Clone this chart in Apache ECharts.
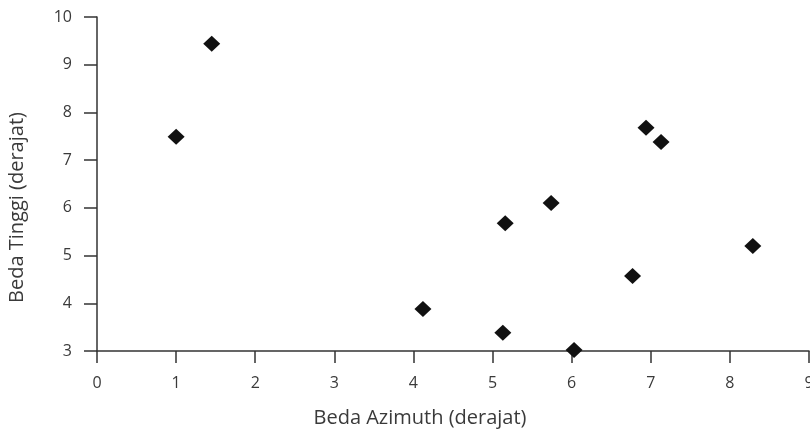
<!DOCTYPE html>
<html>
<head>
<meta charset="utf-8">
<script src="https://cdn.jsdelivr.net/npm/echarts@6/dist/echarts.min.js"></script>
<style>html,body{margin:0;padding:0;background:#fff}#c{width:810px;height:430px}</style>
</head>
<body>
<div id="c"></div>
<script>
var xName = 'Beda Azimuth (derajat)';
var yName = 'Beda Tinggi (derajat)';
var azimuth = [1.0, 1.45, 4.12, 5.13, 5.16, 5.74, 6.03, 6.77, 6.94, 7.13, 8.29];
var tinggi  = [7.49, 9.44, 3.88, 3.38, 5.68, 6.10, 3.02, 4.57, 7.68, 7.38, 5.20];

var pts = azimuth.map(function (x, i) { return [x, tinggi[i]]; });
var font = '"Open Sans", "Noto Sans", sans-serif';
var chart = echarts.init(document.getElementById('c'));
chart.setOption({
  animation: false,
  grid: { left: 97, right: 1, top: 17, bottom: 79, containLabel: false, outerBoundsMode: 'none' },
  xAxis: {
    type: 'value', min: 0, max: 9, interval: 1,
    name: xName, nameLocation: 'middle', nameGap: 57,
    nameTextStyle: { color: '#3a3a3a', fontSize: 20, fontFamily: font, padding: [0, 66, 0, 0] },
    axisLine: { show: true, lineStyle: { color: '#333', width: 1.5 } },
    axisTick: { show: true, length: 12, lineStyle: { color: '#333', width: 1.5 } },
    axisLabel: { color: '#3a3a3a', fontSize: 16, fontFamily: font, margin: 24 },
    splitLine: { show: false }
  },
  yAxis: {
    type: 'value', min: 3, max: 10, interval: 1,
    name: yName, nameLocation: 'middle', nameGap: 70, nameRotate: 90,
    nameTextStyle: { color: '#3a3a3a', fontSize: 20, fontFamily: font, padding: [0, 47, 0, 0] },
    axisLine: { show: true, lineStyle: { color: '#333', width: 1.5 } },
    axisTick: { show: true, length: 13, lineStyle: { color: '#333', width: 1.5 } },
    axisLabel: { color: '#3a3a3a', fontSize: 16, fontFamily: font, margin: 25 },
    splitLine: { show: false }
  },
  series: [{
    type: 'scatter', data: pts, symbol: 'diamond', symbolSize: [17, 16],
    itemStyle: { color: '#111', opacity: 1 }, clip: false
  }]
});
</script>
</body>
</html>
